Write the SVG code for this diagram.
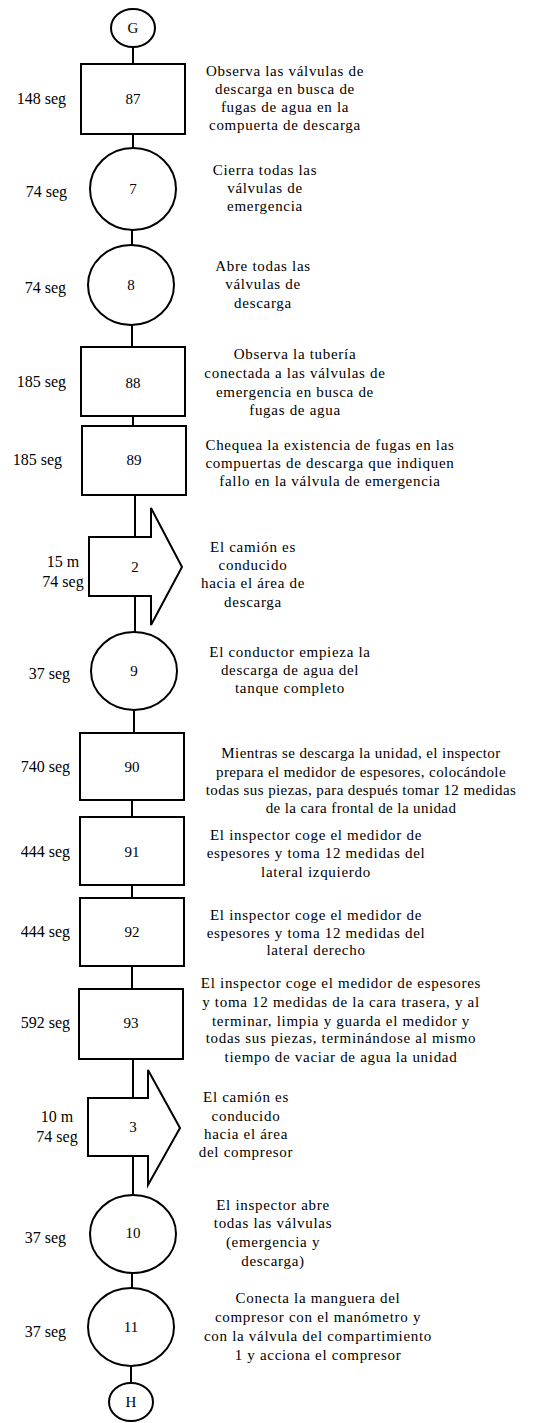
<svg xmlns="http://www.w3.org/2000/svg" width="549" height="1423" viewBox="0 0 549 1423" font-family="'Liberation Serif', 'Times New Roman', 'DejaVu Serif', serif">
<style>
.s{fill:#fff;stroke:#000;stroke-width:2}
.c{stroke:#000;stroke-width:2;fill:none}
text{font-family:'Liberation Serif', 'Times New Roman', serif;font-size:15px;fill:#000}
.n{text-anchor:middle}
.d{text-anchor:middle;letter-spacing:0.7px}
.d2{text-anchor:middle;letter-spacing:0.4px}
.t{text-anchor:end;font-size:16px}
.m{text-anchor:middle;font-size:16px}
</style>
<rect width="549" height="1423" fill="#fff"/>
<g id="connectors">
<line class="c" x1="133" y1="47" x2="133" y2="64"/>
<line class="c" x1="133" y1="134" x2="133" y2="148"/>
<line class="c" x1="132" y1="230" x2="132" y2="245"/>
<line class="c" x1="132" y1="325" x2="132" y2="347"/>
<line class="c" x1="133" y1="416" x2="133" y2="426"/>
<line class="c" x1="135" y1="495" x2="135" y2="537"/>
<line class="c" x1="135" y1="596" x2="135" y2="632"/>
<line class="c" x1="134" y1="710" x2="134" y2="733"/>
<line class="c" x1="132" y1="800" x2="132" y2="817"/>
<line class="c" x1="132" y1="885" x2="132" y2="898"/>
<line class="c" x1="132" y1="966" x2="132" y2="989"/>
<line class="c" x1="133" y1="1059" x2="133" y2="1098"/>
<line class="c" x1="133" y1="1156" x2="133" y2="1195"/>
<line class="c" x1="132" y1="1273" x2="132" y2="1288"/>
<line class="c" x1="131" y1="1366" x2="131" y2="1383"/>
</g>
<g id="G"><ellipse class="s" cx="133" cy="28" rx="22" ry="19"/><text class="n" x="133" y="33">G</text></g>
<g id="n87"><rect class="s" x="81" y="64" width="104" height="70"/><text class="n" x="133" y="104">87</text>
<text class="t" x="66" y="104">148 seg</text>
<text class="d"><tspan x="285" y="76">Observa las válvulas de</tspan><tspan x="285" y="94">descarga en busca de</tspan><tspan x="285" y="112">fugas de agua en la</tspan><tspan x="285" y="130">compuerta de descarga</tspan></text></g>
<g id="n7"><ellipse class="s" cx="133" cy="189" rx="43" ry="41"/><text class="n" x="133" y="194">7</text>
<text class="t" x="67" y="197">74 seg</text>
<text class="d"><tspan x="265" y="175">Cierra todas las</tspan><tspan x="265" y="193">válvulas de</tspan><tspan x="265" y="211">emergencia</tspan></text></g>
<g id="n8"><ellipse class="s" cx="131" cy="285" rx="43" ry="40"/><text class="n" x="131" y="290">8</text>
<text class="t" x="66" y="293">74 seg</text>
<text class="d"><tspan x="263" y="271">Abre todas las</tspan><tspan x="263" y="289">válvulas de</tspan><tspan x="263" y="308">descarga</tspan></text></g>
<g id="n88"><rect class="s" x="81" y="347" width="104" height="69"/><text class="n" x="133" y="388">88</text>
<text class="t" x="66" y="387">185 seg</text>
<text class="d"><tspan x="295" y="359">Observa la tubería</tspan><tspan x="295" y="378">conectada a las válvulas de</tspan><tspan x="295" y="397">emergencia en busca de</tspan><tspan x="295" y="415">fugas de agua</tspan></text></g>
<g id="n89"><rect class="s" x="82" y="426" width="104" height="69"/><text class="n" x="134" y="465">89</text>
<text class="t" x="62" y="465">185 seg</text>
<text class="d"><tspan x="330" y="450">Chequea la existencia de fugas en las</tspan><tspan x="330" y="468">compuertas de descarga que indiquen</tspan><tspan x="330" y="486">fallo en la válvula de emergencia</tspan></text></g>
<g id="t2"><polygon class="s" points="89,537 151,537 151,508 182,567 151,625 151,596 89,596"/><text class="n" x="135" y="572">2</text>
<text class="m" x="63" y="567">15 m</text><text class="m" x="63" y="587">74 seg</text>
<text class="d"><tspan x="253" y="552">El camión es</tspan><tspan x="253" y="570">conducido</tspan><tspan x="253" y="588">hacia el área de</tspan><tspan x="253" y="607">descarga</tspan></text></g>
<g id="n9"><ellipse class="s" cx="134" cy="671" rx="43" ry="39"/><text class="n" x="134" y="676">9</text>
<text class="t" x="70" y="679">37 seg</text>
<text class="d"><tspan x="290" y="657">El conductor empieza la</tspan><tspan x="290" y="675">descarga de agua del</tspan><tspan x="290" y="693">tanque completo</tspan></text></g>
<g id="n90"><rect class="s" x="80" y="733" width="104" height="67"/><text class="n" x="132" y="772">90</text>
<text class="t" x="70" y="772">740 seg</text>
<text class="d2"><tspan x="361" y="758">Mientras se descarga la unidad, el inspector</tspan><tspan x="361" y="777">prepara el medidor de espesores, colocándole</tspan><tspan x="361" y="795">todas sus piezas, para después tomar 12 medidas</tspan><tspan x="361" y="813">de la cara frontal de la unidad</tspan></text></g>
<g id="n91"><rect class="s" x="80" y="817" width="104" height="68"/><text class="n" x="132" y="857">91</text>
<text class="t" x="70" y="857">444 seg</text>
<text class="d"><tspan x="316" y="840">El inspector coge el medidor de</tspan><tspan x="316" y="858">espesores y toma 12 medidas del</tspan><tspan x="316" y="877">lateral izquierdo</tspan></text></g>
<g id="n92"><rect class="s" x="80" y="898" width="104" height="68"/><text class="n" x="132" y="937">92</text>
<text class="t" x="70" y="937">444 seg</text>
<text class="d"><tspan x="316" y="920">El inspector coge el medidor de</tspan><tspan x="316" y="938">espesores y toma 12 medidas del</tspan><tspan x="316" y="955">lateral derecho</tspan></text></g>
<g id="n93"><rect class="s" x="79" y="989" width="104" height="70"/><text class="n" x="131" y="1028">93</text>
<text class="t" x="70" y="1028">592 seg</text>
<text class="d"><tspan x="341" y="988">El inspector coge el medidor de espesores</tspan><tspan x="341" y="1007">y toma 12 medidas de la cara trasera, y al</tspan><tspan x="341" y="1026">terminar, limpia y guarda el medidor y</tspan><tspan x="341" y="1043">todas sus piezas, terminándose al mismo</tspan><tspan x="341" y="1062">tiempo de vaciar de agua la unidad</tspan></text></g>
<g id="t3"><polygon class="s" points="88,1098 148,1098 148,1070 180,1128 148,1185 148,1156 88,1156"/><text class="n" x="133" y="1132">3</text>
<text class="m" x="57" y="1122">10 m</text><text class="m" x="57" y="1142">74 seg</text>
<text class="d"><tspan x="246" y="1102">El camión es</tspan><tspan x="246" y="1121">conducido</tspan><tspan x="246" y="1139">hacia el área</tspan><tspan x="246" y="1157">del compresor</tspan></text></g>
<g id="n10"><ellipse class="s" cx="133" cy="1234" rx="43" ry="39"/><text class="n" x="133" y="1238">10</text>
<text class="t" x="66" y="1243">37 seg</text>
<text class="d"><tspan x="273" y="1210">El inspector abre</tspan><tspan x="273" y="1228">todas las válvulas</tspan><tspan x="273" y="1247">(emergencia y</tspan><tspan x="273" y="1266">descarga)</tspan></text></g>
<g id="n11"><ellipse class="s" cx="131" cy="1327" rx="43" ry="39"/><text class="n" x="131" y="1332">11</text>
<text class="t" x="66" y="1337">37 seg</text>
<text class="d"><tspan x="318" y="1303">Conecta la manguera del</tspan><tspan x="318" y="1322">compresor con el manómetro y</tspan><tspan x="318" y="1341">con la válvula del compartimiento</tspan><tspan x="318" y="1360">1 y acciona el compresor</tspan></text></g>
<g id="H"><ellipse class="s" cx="131" cy="1402" rx="22" ry="19"/><text class="n" x="131" y="1407">H</text></g>
</svg>
